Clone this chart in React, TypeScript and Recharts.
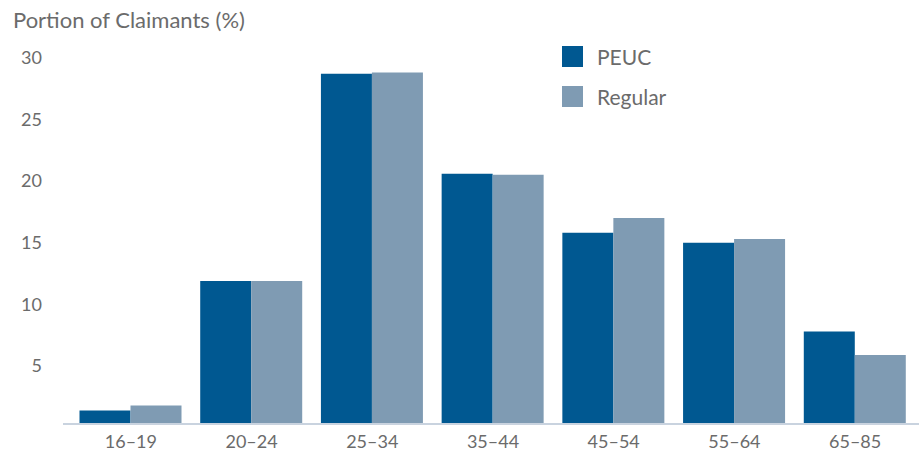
import React from 'react';
import { BarChart, Bar, XAxis, YAxis } from 'recharts';

// Share of claimants by age group, PEUC vs regular benefits
const AGE_GROUPS = ['16–19', '20–24', '25–34', '35–44', '45–54', '55–64', '65–85'];
const PEUC = [1.1, 11.6, 28.4, 20.3, 15.5, 14.7, 7.5];
const REGULAR = [1.5, 11.6, 28.5, 20.2, 16.7, 15.0, 5.6];
const Y_TICKS = [5, 10, 15, 20, 25, 30];

const PEUC_COLOR = '#005891';
const REGULAR_COLOR = '#7f9bb3';
const TEXT_COLOR = '#6b6b6b';
const FONT = 'Lato, "Open Sans", sans-serif';

const SERIES = [
  { key: 'peuc', name: 'PEUC', color: PEUC_COLOR },
  { key: 'regular', name: 'Regular', color: REGULAR_COLOR },
];

const data = AGE_GROUPS.map((age, i) => ({ age, peuc: PEUC[i], regular: REGULAR[i] }));

// legend sits inside the plot, top right, so it is drawn over the chart
const LegendBox = () => (
  <div style={{ position: 'absolute', left: 562, top: 36, fontFamily: FONT, fontSize: 21, color: TEXT_COLOR }}>
    {SERIES.map((s) => (
      <div key={s.key} style={{ display: 'flex', alignItems: 'center', height: 40 }}>
        <span style={{ width: 21, height: 21, background: s.color, display: 'inline-block', marginRight: 14 }} />
        <span>{s.name}</span>
      </div>
    ))}
  </div>
);

const YTick = ({ x, y, payload }: any) => (
  <text x={x} y={y} dy={10} textAnchor="end" fill={TEXT_COLOR} fontSize={18} fontFamily={FONT}>
    {payload.value}
  </text>
);

const App: React.FC = () => {
  return (
    <div style={{ position: 'absolute', left: 0, top: 0, width: 919, height: 456, background: '#fff' }}>
      <div
        style={{
          position: 'absolute',
          left: 13,
          top: 6,
          fontFamily: FONT,
          fontSize: 22,
          color: TEXT_COLOR,
          whiteSpace: 'nowrap',
        }}
      >
        Portion of Claimants (%)
      </div>
      <BarChart
        width={919}
        height={456}
        data={data}
        margin={{ top: 54, right: 0, bottom: 0, left: 0 }}
        barCategoryGap={9}
        barGap={0}
      >
        <XAxis
          dataKey="age"
          height={32}
          padding={{ left: 7.5, right: 3.5 }}
          tickLine={false}
          tickSize={0}
          tickMargin={11}
          axisLine={{ stroke: '#c9d3df', strokeWidth: 2 }}
          tick={{ fill: TEXT_COLOR, fontSize: 18, fontFamily: FONT }}
        />
        <YAxis
          width={63}
          domain={[0, 30]}
          ticks={Y_TICKS}
          axisLine={false}
          tickLine={false}
          tickSize={0}
          tickMargin={21}
          tick={<YTick />}
        />
        {SERIES.map((s) => (
          <Bar key={s.key} dataKey={s.key} name={s.name} fill={s.color} isAnimationActive={false} />
        ))}
      </BarChart>
      <LegendBox />
    </div>
  );
};

export default App;
